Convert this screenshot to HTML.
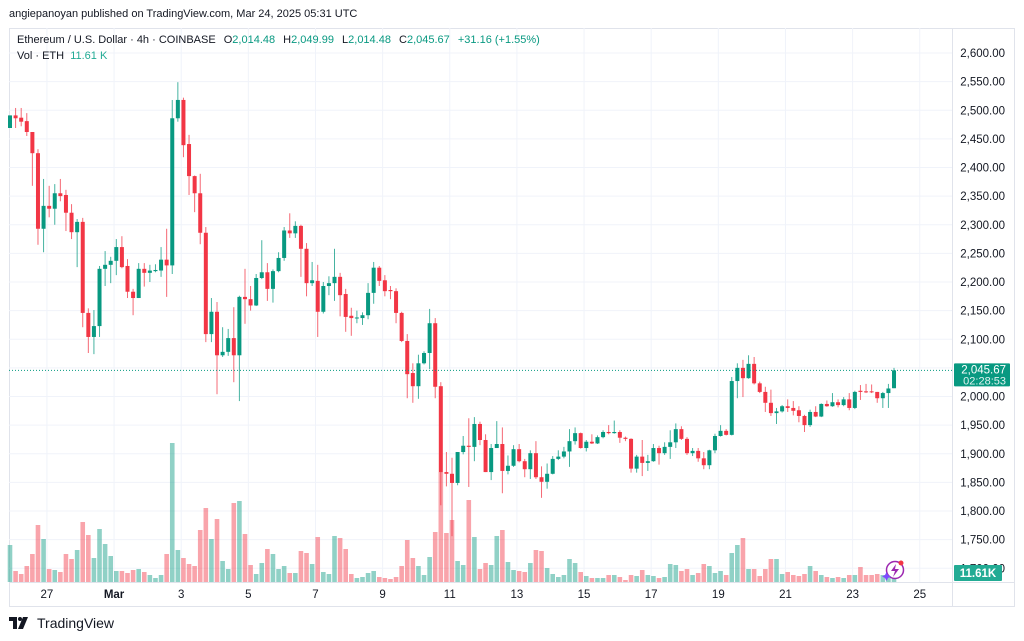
<!DOCTYPE html>
<html><head><meta charset="utf-8">
<style>
html,body{margin:0;padding:0;background:#fff;width:1024px;height:641px;overflow:hidden;font-family:"Liberation Sans",sans-serif;}
#root{position:relative;width:1024px;height:641px;}
.hdr{position:absolute;left:9px;top:8px;font-size:11px;color:#131722;}
.leg{position:absolute;left:17px;top:34px;font-size:11px;color:#131722;white-space:nowrap;}
.leg .g{color:#089981;}
.leg .s{display:inline-block;width:5px;}
.vol{position:absolute;left:17px;top:50px;font-size:11px;color:#131722;}
.vol .g{color:#22ab94;}
.logo{position:absolute;left:9px;top:615px;font-size:14px;color:#131722;display:flex;align-items:center;gap:6px;}
svg{position:absolute;left:0;top:0;}
</style></head>
<body>
<div id="root">
<div class="hdr">angiepanoyan published on TradingView.com, Mar 24, 2025 05:31 UTC</div>
<svg id="chart" width="1024" height="641"></svg>
<div class="leg">Ethereum / U.S. Dollar · 4h · COINBASE<span class="s"></span> O<span class="g">2,014.48</span><span class="s"></span> H<span class="g">2,049.99</span><span class="s"></span> L<span class="g">2,014.48</span><span class="s"></span> C<span class="g">2,045.67</span><span class="s"></span> <span class="g">+31.16 (+1.55%)</span></div>
<div class="vol">Vol · ETH&nbsp;&nbsp;<span class="g">11.61 K</span></div>
<div class="logo"><svg style="position:static" width="22" height="12" viewBox="0 0 22 12"><path d="M0 0h8v12H4V4H0z M14 0h5l-5 12h-5z" fill="#131722"/><circle cx="11" cy="2" r="2" fill="#131722"/></svg><span>TradingView</span></div>
</div>
<script>
const opens=[2469,2491,2487,2481,2462,2425,2293,2333,2328,2355,2352,2321,2287,2305,2146,2104,2123,2223,2230,2237,2261,2228,2183,2172,2223,2216,2219,2220,2239,2229,2486,2518,2441,2385,2355,2286,2109,2148,2072,2078,2102,2072,2174,2170,2159,2207,2217,2188,2219,2242,2290,2285,2298,2258,2198,2202,2148,2193,2198,2209,2179,2141,2137,2137,2142,2181,2225,2203,2186,2184,2146,2097,2041,2018,2058,2076,2128,2018,1868,1865,1849,1903,1914,1912,1952,1924,1868,1910,1917,1870,1879,1908,1887,1873,1901,1859,1851,1865,1891,1895,1904,1922,1936,1910,1921,1918,1929,1938,1936,1938,1928,1926,1874,1895,1884,1887,1910,1901,1912,1920,1943,1926,1901,1905,1892,1880,1906,1931,1940,1933,2027,2050,2032,2057,2023,2008,1989,1971,1974,1983,1980,1976,1966,1950,1973,1965,1987,1983,1990,1985,1995,1980,2010,2009,2009,2008,1997,2006,2014.48];
const highs=[2491,2504,2504,2495,2462,2432,2380,2368,2371,2380,2361,2336,2310,2312,2154,2151,2228,2254,2244,2275,2280,2240,2188,2233,2233,2230,2231,2261,2293,2518,2549,2522,2457,2386,2389,2296,2172,2165,2121,2118,2156,2176,2223,2193,2214,2273,2233,2222,2252,2296,2320,2306,2300,2268,2235,2230,2200,2210,2258,2216,2188,2155,2150,2147,2198,2235,2228,2212,2193,2189,2148,2109,2058,2073,2079,2153,2137,2025,1903,1893,1903,1931,1962,1964,1956,1934,1917,1957,1946,1897,1915,1917,1891,1906,1922,1878,1883,1896,1906,1912,1943,1946,1937,1924,1934,1932,1941,1950,1958,1941,1930,1927,1898,1924,1898,1917,1914,1920,1941,1953,1948,1929,1910,1910,1903,1907,1935,1950,1943,2034,2058,2064,2072,2069,2026,2017,2012,1980,1985,1995,1992,1983,1968,1977,1983,1988,1993,2006,1995,1999,2006,2010,2020,2022,2021,2008,2008,2022,2049.99];
const lows=[2469,2469,2472,2455,2368,2265,2252,2313,2300,2341,2289,2275,2226,2121,2076,2074,2104,2193,2198,2212,2224,2172,2142,2172,2192,2200,2217,2209,2174,2214,2480,2418,2352,2322,2266,2095,2095,2004,2069,2071,2025,1992,2127,2150,2158,2205,2167,2164,2217,2237,2277,2277,2209,2175,2193,2104,2145,2177,2167,2140,2113,2106,2128,2125,2135,2162,2193,2175,2170,2128,2095,1997,1989,1996,2056,2048,1997,1810,1843,1756,1845,1899,1842,1887,1915,1868,1854,1910,1831,1864,1877,1885,1859,1856,1856,1823,1839,1864,1889,1892,1877,1916,1909,1904,1917,1917,1927,1934,1935,1919,1922,1867,1867,1861,1870,1886,1881,1898,1891,1910,1924,1898,1896,1886,1873,1873,1901,1930,1932,1932,1997,1999,2031,2021,2006,1973,1966,1952,1972,1973,1967,1955,1938,1947,1964,1964,1982,1982,1981,1983,1976,1978,1994,2006,2006,1989,1980,1980,2014.48];
const closes=[2491,2486,2480,2462,2425,2293,2333,2328,2355,2350,2321,2287,2305,2146,2104,2123,2223,2230,2237,2261,2226,2183,2172,2223,2216,2220,2221,2239,2229,2486,2518,2439,2385,2355,2286,2109,2148,2072,2078,2102,2072,2174,2170,2159,2207,2217,2188,2219,2242,2290,2285,2298,2258,2198,2203,2148,2193,2198,2209,2177,2139,2137,2138,2142,2181,2225,2202,2184,2184,2146,2097,2039,2018,2058,2076,2128,2017,1868,1865,1849,1903,1914,1912,1952,1924,1868,1910,1917,1870,1879,1908,1887,1873,1901,1859,1851,1865,1891,1895,1904,1922,1936,1910,1921,1918,1929,1938,1936,1938,1928,1926,1874,1895,1884,1887,1910,1901,1912,1920,1943,1926,1901,1905,1892,1880,1906,1931,1940,1933,2027,2050,2032,2057,2023,2008,1989,1971,1974,1983,1980,1975,1966,1950,1973,1965,1987,1983,1990,1985,1995,1980,2008,2008,2008,2008,1997,2006,2014,2045.67];
const volumes=[74,22,16,32,56,114,86,26,24,20,56,46,64,120,94,48,106,76,52,22,22,18,24,26,20,14,8,14,56,278,64,48,36,32,104,148,86,126,42,26,158,162,96,34,16,38,66,56,26,32,18,18,62,58,36,90,20,16,92,88,66,16,8,10,18,22,10,8,6,10,32,84,48,32,14,50,100,220,98,124,42,34,164,90,26,38,34,92,104,40,24,22,20,38,64,62,28,16,10,14,46,38,20,12,8,8,8,14,14,10,4,14,12,24,14,12,8,10,36,34,22,26,14,18,36,32,18,22,14,58,74,88,26,26,12,26,46,46,16,20,14,12,16,32,22,14,10,8,10,8,14,14,30,14,14,16,14,12,11.61];
const priceTicks=[2600,2550,2500,2450,2400,2350,2300,2250,2200,2150,2100,2050,2000,1950,1900,1850,1800,1750,1700];
const dayLabels=["27","Mar","3","5","7","9","11","13","15","17","19","21","23","25"];
const dayOffsets=[0,2,4,6,8,10,12,14,16,18,20,22,24,26];
const lastPrice=2045.67;

const NS="http://www.w3.org/2000/svg";
const svg=document.getElementById('chart');
const PL=9,PR=952,PT=28,PB=582;
const X0=10,PITCH=5.595,LABEL0=6.6;
function xAt(i){return X0+i*PITCH;}
function yP(p){return 53+(2600-p)*0.5725;}
function yV(v){return PB-v/2;}
function mk(tag,attrs,parent){const e=document.createElementNS(NS,tag);for(const k in attrs)e.setAttribute(k,attrs[k]);(parent||svg).appendChild(e);return e;}
function fmt(n){return n.toLocaleString('en-US',{minimumFractionDigits:2,maximumFractionDigits:2});}

let fr=mk('rect',{x:9.5,y:28.5,width:1005,height:578,fill:'none',stroke:'#e0e3eb'});


let sep=mk('line',{x1:PR+0.5,y1:28,x2:PR+0.5,y2:607,stroke:'#e0e3eb'});


let sep2=mk('line',{x1:9,y1:PB+0.5,x2:1015,y2:PB+0.5,stroke:'#e0e3eb'});



priceTicks.forEach(p=>{
  const y=yP(p);
  let g=mk('line',{x1:PL,y1:y,x2:PR,y2:y,stroke:'#f0f3fa'});
  
  
  let t=mk('text',{x:1005,y:y+4,'text-anchor':'end','font-size':'11.5',fill:'#131722','font-family':'Liberation Sans, sans-serif'});
  t.textContent=fmt(p);
  
  
});
dayLabels.forEach((d,k)=>{
  const x=xAt(LABEL0+dayOffsets[k]*6);
  let g=mk('line',{x1:x,y1:PT,x2:x,y2:PB,stroke:'#f0f3fa'});
  
  
  let t=mk('text',{x:x,y:598,'text-anchor':'middle','font-size':'11.5',fill:'#131722','font-weight':d==='Mar'?'bold':'normal','font-family':'Liberation Sans, sans-serif'});
  t.textContent=d;
  
  
});

volumes.forEach((v,i)=>{
  const up=closes[i]>=opens[i];
  const x=xAt(i);
  let r=mk('rect',{x:x-2.3,y:yV(v),width:4.6,height:PB-yV(v),fill:up?'rgba(8,153,129,0.45)':'rgba(242,54,69,0.45)'});
  
  
});

opens.forEach((o,i)=>{
  const c=closes[i],up=c>=o,col=up?'#089981':'#f23645';
  const x=xAt(i);
  let w=mk('line',{x1:x,y1:yP(highs[i]),x2:x,y2:yP(lows[i]),stroke:col,'stroke-width':1,'stroke-opacity':0.75});
  
  
  const yt=yP(Math.max(o,c)),yb=yP(Math.min(o,c));
  let b=mk('rect',{x:x-2,y:yt,width:4,height:Math.max(1,yb-yt),fill:col});
  
  
});

const ly=yP(lastPrice);
let pl=mk('line',{x1:PL,y1:ly,x2:PR,y2:ly,stroke:'#089981','stroke-dasharray':'1 2','stroke-width':1});


let lb=mk('rect',{x:954,y:ly-7,width:56,height:23,fill:'#089981',rx:1});


let lt=mk('text',{x:1006,y:ly+3,'text-anchor':'end','font-size':'11.5',fill:'#fff','font-family':'Liberation Sans, sans-serif'});
lt.textContent=fmt(lastPrice);


let ct=mk('text',{x:1006,y:ly+14,'text-anchor':'end','font-size':'11',fill:'#e0f2ef','font-family':'Liberation Sans, sans-serif'});
ct.textContent='02:28:53';


let vb=mk('rect',{x:954,y:565,width:48,height:16,fill:'#22ab94',rx:1});


let vt=mk('text',{x:978,y:577,'text-anchor':'middle','font-size':'11.5','font-weight':'bold',fill:'#fff','font-family':'Liberation Sans, sans-serif'});
vt.textContent='11.61K';



let ic=mk('g',{});


mk('circle',{cx:895,cy:570,r:8.5,fill:'#fff',stroke:'#9c27b0','stroke-width':1.5},ic);
mk('path',{d:'M896 564 L891 571 L895 571 L893 577 L899 569 L895 569 Z',fill:'#9c27b0'},ic);
mk('circle',{cx:901,cy:563,r:2.5,fill:'#f23645'},ic);
mk('path',{d:'M885 575 l1.5 -3 l1.5 3 l3 1.5 l-3 1.5 l-1.5 3 l-1.5 -3 l-3 -1.5z',fill:'#7c4dff'},ic);
</script>
</body></html>
